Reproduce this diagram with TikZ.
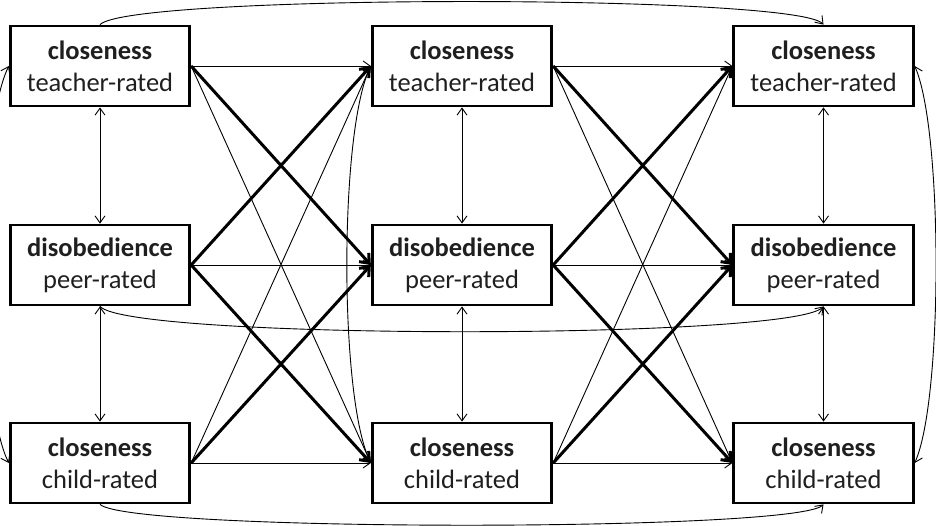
\documentclass[tikz,border=0pt]{standalone}
\usepackage{fontspec}
\setmainfont{Carlito}
\usetikzlibrary{arrows.meta}
\begin{document}
\begin{tikzpicture}[x=1pt,y=-1pt,
  var/.style={draw, line width=2.8pt, minimum width=179.5pt, minimum height=80pt, inner sep=0pt, align=center, text=black!88, font=\fontsize{26.5}{32}\selectfont},
  thinarr/.style={line width=0.9pt, -{Straight Barb[length=7pt,width=10pt]}},
  thickarr/.style={line width=3pt, -{Straight Barb[length=8pt,width=13pt]}},
  dblarr/.style={line width=0.9pt, {Straight Barb[length=7pt,width=10pt]}-{Straight Barb[length=7pt,width=10pt]}},
  arcarr/.style={line width=0.9pt, -{Straight Barb[length=7pt,width=10pt]}},
  arcdbl/.style={line width=0.9pt, {Straight Barb[length=7pt,width=10pt]}-{Straight Barb[length=7pt,width=10pt]}}]
\useasboundingbox (0,0) rectangle (936,525);

\node[var] (a1) at (100,66) {\textbf{closeness}\\teacher-rated};
\node[var] (b1) at (100,265) {\textbf{disobedience}\\peer-rated};
\node[var] (c1) at (100,463) {\textbf{closeness}\\child-rated};
\node[var] (a2) at (462,66) {\textbf{closeness}\\teacher-rated};
\node[var] (b2) at (462,265) {\textbf{disobedience}\\peer-rated};
\node[var] (c2) at (462,463) {\textbf{closeness}\\child-rated};
\node[var] (a3) at (823.5,66) {\textbf{closeness}\\teacher-rated};
\node[var] (b3) at (823.5,265) {\textbf{disobedience}\\peer-rated};
\node[var] (c3) at (823.5,463) {\textbf{closeness}\\child-rated};

% cross-lagged paths
\foreach \s/\t in {1/2,2/3}{
  \draw[thinarr] (a\s.east) -- (a\t.west);
  \draw[thinarr] (b\s.east) -- (b\t.west);
  \draw[thinarr] (c\s.east) -- (c\t.west);
  \draw[thinarr] (a\s.east) -- (c\t.west);
  \draw[thinarr] (c\s.east) -- (a\t.west);
  \draw[thickarr] (a\s.east) -- (b\t.west);
  \draw[thickarr] (b\s.east) -- (a\t.west);
  \draw[thickarr] (b\s.east) -- (c\t.west);
  \draw[thickarr] (c\s.east) -- (b\t.west);
}

% within-time covariances
\foreach \s in {1,2,3}{
  \draw[dblarr] (a\s.south) -- (b\s.north);
  \draw[dblarr] (b\s.south) -- (c\s.north);
}

% lag-2 paths
\draw[arcarr] (a1.north) .. controls (130,-6) and (796,-6) .. (a3.north);
\draw[arcarr] (b1.south) .. controls (130,340) and (793,340) .. (b3.south);
\draw[arcarr] (c1.south) .. controls (130,532) and (796,532) .. (c3.south);

% closeness covariances
\draw[arcdbl] (a1.west) .. controls (-23,130) and (-23,400) .. (c1.west);
\draw[arcdbl] (a2.west) .. controls (339,130) and (339,400) .. (c2.west);
\draw[arcdbl] (a3.east) .. controls (943,130) and (943,400) .. (c3.east);
\end{tikzpicture}
\end{document}
